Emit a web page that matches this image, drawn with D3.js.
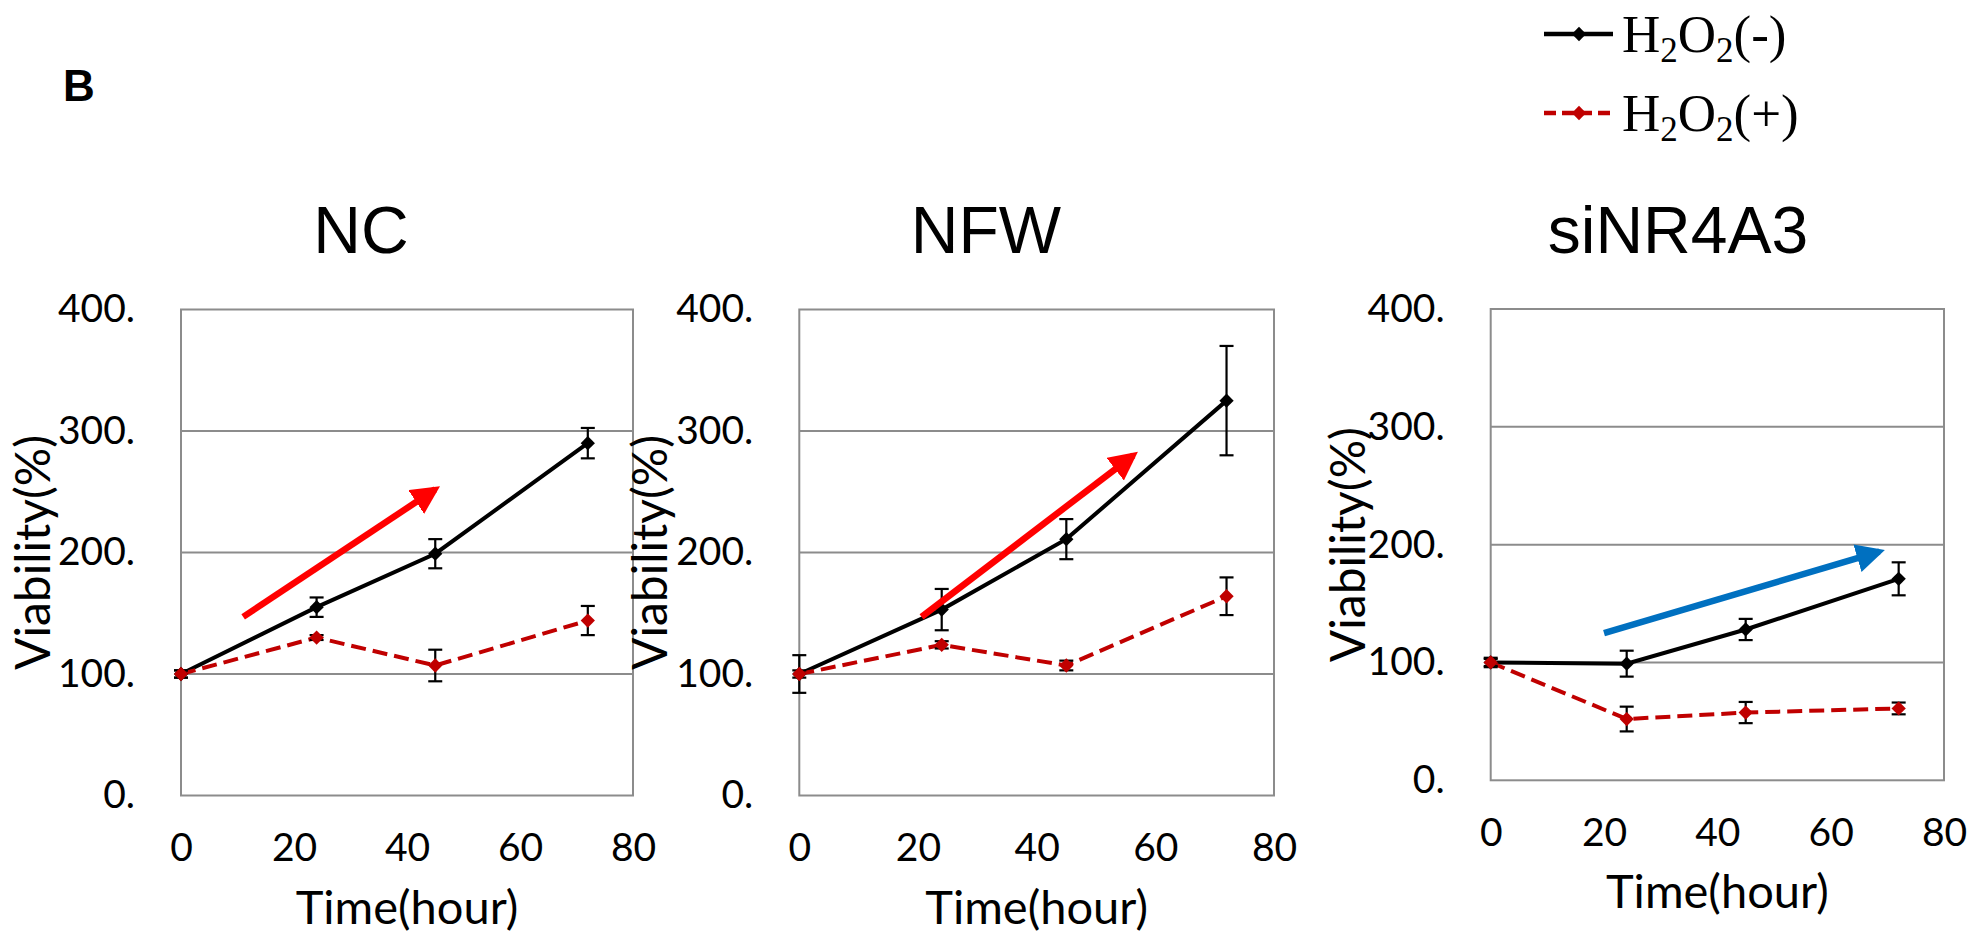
<!DOCTYPE html>
<html><head><meta charset="utf-8">
<script src="https://cdn.jsdelivr.net/npm/d3@7"></script>
<style>body{margin:0;background:#fff;} svg{display:block;}</style>
</head><body>
<svg id="chart" width="1987" height="934"></svg>
<script>
// ---- data ----
const times = [0, 24, 45, 72];
const panelNames = ["NC", "NFW", "siNR4A3"];
const seriesNames = ["H2O2(-)", "H2O2(+)"];
const yTicks = [0, 100, 200, 300, 400];
const yTickLabels = ["0.", "100.", "200.", "300.", "400."];
const xTicks = [0, 20, 40, 60, 80];

const ncMinus = [100, 155, 199, 290];
const ncMinusErr = [3, 8, 12, 12.5];
const ncPlus = [100, 130, 107, 144];
const ncPlusErr = [3, 2, 13, 12];

const nfwMinus = [100, 153, 211, 325];
const nfwMinusErr = [15.5, 17, 16.5, 45];
const nfwPlus = [100, 124, 107, 164];
const nfwPlusErr = [3, 3, 4, 15.5];

const siMinus = [100, 99, 128, 171];
const siMinusErr = [4, 11, 9, 14];
const siPlus = [100, 52, 57.5, 61];
const siPlusErr = [3, 10.5, 9, 5];

// trend arrows [from (hour, %), to (hour, %)]
const ncArrow = [[11, 147], [45, 252]];
const nfwArrow = [[20.6, 147], [56.3, 280]];
const siArrow = [[20, 125], [68.6, 194]];

// ---- layout ----
const panels = [
  {name: panelNames[0], minus: ncMinus, minusErr: ncMinusErr, plus: ncPlus, plusErr: ncPlusErr, arrow: ncArrow, arrowColor: "#ff0000",
   left: 181, right: 633, top: 309.5, bottom: 795.5, titleX: 361, yTitleOff: 131},
  {name: panelNames[1], minus: nfwMinus, minusErr: nfwMinusErr, plus: nfwPlus, plusErr: nfwPlusErr, arrow: nfwArrow, arrowColor: "#ff0000",
   left: 799.3, right: 1274, top: 309.5, bottom: 795.5, titleX: 986, yTitleOff: 132},
  {name: panelNames[2], minus: siMinus, minusErr: siMinusErr, plus: siPlus, plusErr: siPlusErr, arrow: siArrow, arrowColor: "#0070c0",
   left: 1490.7, right: 1944, top: 309, bottom: 780.3, titleX: 1678, yTitleOff: 126}
];

const svg = d3.select("#chart");
const GRID = "#8c8c8c";
const BLACK = "#000000";
const RED = "#c00000";
const tickFont = "Lato, 'Open Sans', sans-serif";

const defs = svg.append("defs");
["#ff0000", "#0070c0"].forEach((c, i) => {
  defs.append("marker").attr("id", "ah" + i)
    .attr("viewBox", "0 0 10 10").attr("refX", 8).attr("refY", 5)
    .attr("markerWidth", 4.4).attr("markerHeight", 4.4).attr("markerUnits", "strokeWidth")
    .attr("orient", "auto")
    .append("path").attr("d", "M0,0 L10,5 L0,10 Z").attr("fill", c);
});

// Panel label B
svg.append("text").attr("x", 63).attr("y", 101).text("B")
  .attr("font-family", "'Liberation Sans', Arial, sans-serif").attr("font-weight", "bold")
  .attr("font-size", 44).attr("fill", "#000");

const diamond = d3.symbol().type(d3.symbolDiamond2).size(130);

panels.forEach((p, pi) => {
  const x = d3.scaleLinear().domain([0, 80]).range([p.left, p.right]);
  const y = d3.scaleLinear().domain([0, 400]).range([p.bottom, p.top]);
  const g = svg.append("g");

  // title
  g.append("text").attr("x", p.titleX).attr("y", 253).attr("text-anchor", "middle")
    .attr("font-family", "'Liberation Sans', Arial, sans-serif").attr("font-size", 66)
    .attr("fill", "#000").text(p.name);

  // gridlines
  g.selectAll(".grid").data(yTicks.slice(1, 4)).join("line")
    .attr("x1", p.left).attr("x2", p.right).attr("y1", d => y(d)).attr("y2", d => y(d))
    .attr("stroke", GRID).attr("stroke-width", 2);
  // box
  g.append("rect").attr("x", p.left).attr("y", p.top)
    .attr("width", p.right - p.left).attr("height", p.bottom - p.top)
    .attr("fill", "none").attr("stroke", GRID).attr("stroke-width", 2);

  // y axis labels
  const yAxis = d3.axisLeft(y).tickValues(yTicks).tickFormat((d, i) => yTickLabels[i])
    .tickSize(0).tickPadding(46);
  const ya = g.append("g").attr("transform", `translate(${p.left},0)`).call(yAxis);
  ya.select(".domain").remove();
  ya.selectAll("text").attr("font-family", tickFont).attr("font-size", 39).attr("fill", "#000");

  // x axis labels
  const xAxis = d3.axisBottom(x).tickValues(xTicks).tickFormat(d3.format("d"))
    .tickSize(0).tickPadding(38);
  const xa = g.append("g").attr("transform", `translate(0,${p.bottom})`).call(xAxis);
  xa.select(".domain").remove();
  xa.selectAll("text").attr("font-family", tickFont).attr("font-size", 39).attr("fill", "#000");

  // axis titles
  g.append("text").attr("x", (p.left + p.right) / 2).attr("y", p.bottom + 128)
    .attr("text-anchor", "middle").attr("font-family", tickFont).attr("font-size", 47)
    .attr("fill", "#000").text("Time(hour)");
  const cy = (p.top + p.bottom) / 2;
  g.append("text").attr("transform", `translate(${p.left - p.yTitleOff},${cy}) rotate(-90)`)
    .attr("text-anchor", "middle").attr("font-family", tickFont).attr("font-size", 48)
    .attr("fill", "#000").text("Viability(%)");

  const line = d3.line().x((d, i) => x(times[i])).y(d => y(d));

  const series = [
    {vals: p.minus, err: p.minusErr, color: BLACK, dash: null},
    {vals: p.plus, err: p.plusErr, color: RED, dash: "15,7"}
  ];
  // lines
  series.forEach(s => {
    g.append("path").datum(s.vals).attr("d", line).attr("fill", "none")
      .attr("stroke", s.color).attr("stroke-width", 4)
      .attr("stroke-dasharray", s.dash);
  });
  // error bars
  series.forEach(s => {
    const eb = g.append("g");
    s.vals.forEach((v, i) => {
      const cx = x(times[i]);
      const y1 = y(v + s.err[i]), y2 = y(v - s.err[i]);
      eb.append("line").attr("x1", cx).attr("x2", cx).attr("y1", y1).attr("y2", y2)
        .attr("stroke", "#000").attr("stroke-width", 2.2);
      [y1, y2].forEach(yy => eb.append("line").attr("x1", cx - 7).attr("x2", cx + 7)
        .attr("y1", yy).attr("y2", yy).attr("stroke", "#000").attr("stroke-width", 2.2));
    });
  });
  // markers
  series.forEach(s => {
    g.selectAll(null).data(s.vals).join("path")
      .attr("d", diamond)
      .attr("transform", (d, i) => `translate(${x(times[i])},${y(d)})`)
      .attr("fill", s.color);
  });

  // trend arrow
  g.append("line")
    .attr("x1", x(p.arrow[0][0])).attr("y1", y(p.arrow[0][1]))
    .attr("x2", x(p.arrow[1][0])).attr("y2", y(p.arrow[1][1]))
    .attr("stroke", p.arrowColor).attr("stroke-width", 6.5)
    .attr("marker-end", `url(#ah${p.arrowColor === "#ff0000" ? 0 : 1})`);
});

// legend
const legend = svg.append("g");
const legendRows = [
  {name: seriesNames[0], color: BLACK, dash: null, y: 34, sign: "(-)"},
  {name: seriesNames[1], color: RED, dash: "12,6", y: 113, sign: "(+)"}
];
legendRows.forEach(r => {
  legend.append("line").attr("x1", 1544).attr("x2", 1613).attr("y1", r.y).attr("y2", r.y)
    .attr("stroke", r.color).attr("stroke-width", 4.5).attr("stroke-dasharray", r.dash);
  legend.append("path").attr("d", diamond).attr("transform", `translate(1579,${r.y})`).attr("fill", r.color);
  const t = legend.append("text").attr("x", 1622).attr("y", r.y + 18)
    .attr("font-family", "'Liberation Serif', 'Times New Roman', serif").attr("font-size", 53).attr("fill", "#000");
  t.append("tspan").text("H");
  t.append("tspan").attr("font-size", 35).attr("dy", 10).text("2");
  t.append("tspan").attr("dy", -10).text("O");
  t.append("tspan").attr("font-size", 35).attr("dy", 10).text("2");
  t.append("tspan").attr("dy", -10).text(r.sign);
});
</script>
</body></html>
